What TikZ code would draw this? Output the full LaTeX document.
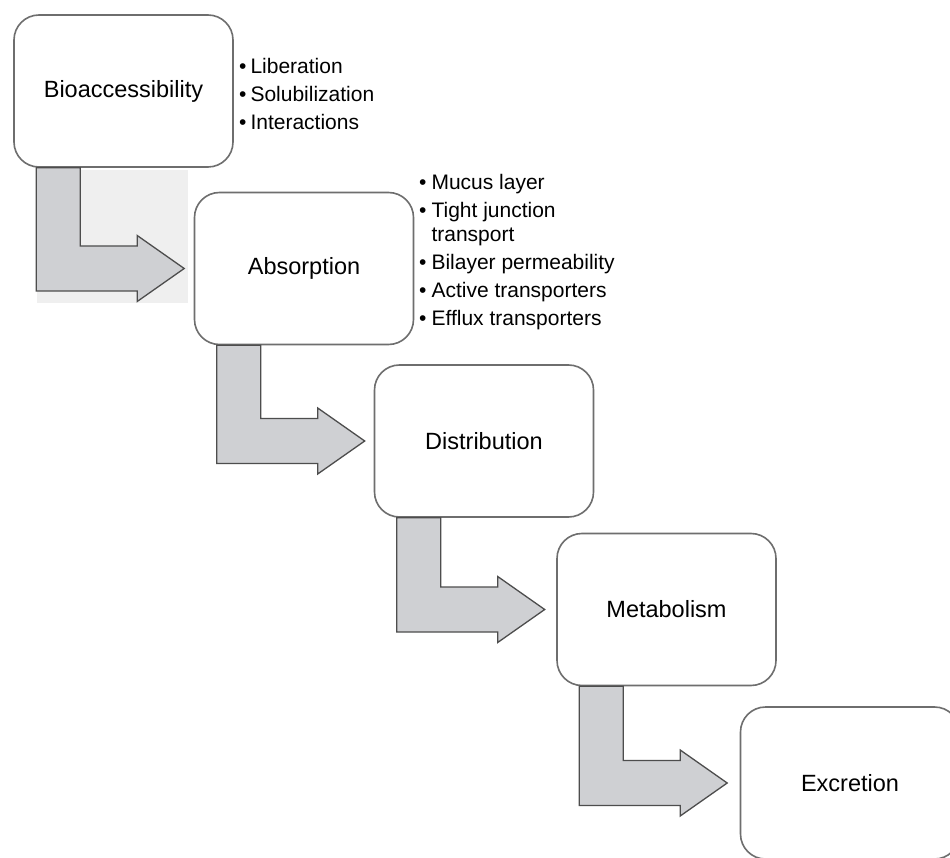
\documentclass[tikz,border=0pt]{standalone}
\usepackage{fontspec}
\setmainfont{Liberation Sans}
\usepackage{tikz}
\usetikzlibrary{calc}

\definecolor{boxline}{HTML}{6E6E6E}
\definecolor{arrowfill}{HTML}{CFD0D3}
\definecolor{arrowline}{HTML}{4D4D4D}
\definecolor{shadegray}{HTML}{EFEFEF}

\tikzset{
  stage/.style={draw=boxline, line width=1.6pt, fill=white, rounded corners=25pt,
    minimum width=219pt, minimum height=152pt, inner sep=0pt,
    font=\fontsize{23.5}{28}\selectfont},
  bendarrow/.style={draw=arrowline, line width=1.3pt, fill=arrowfill},
  notes/.style={anchor=base west, inner sep=0pt, font=\fontsize{21}{28}\selectfont}
}

% bent arrow from the bottom of #1 to the left side of #2
\newcommand{\stagearrow}[2]{%
  \coordinate (S) at ([xshift=23pt]#1.south west);
  \coordinate (M) at (S |- #2.west);
  \draw[bendarrow] (S) -- ($(M)+(0,-22.5)$) -- ($(M)+(101,-22.5)$)
    -- ($(M)+(101,-33)$) -- ($(M)+(148,0)$) -- ($(M)+(101,33)$)
    -- ($(M)+(101,22.5)$) -- ($(M)+(44,22.5)$) -- ([xshift=44pt]S) -- cycle;
}

\begin{document}
\begin{tikzpicture}[x=1pt, y=1pt]
\clip (0,0) rectangle (950,-858);
\fill[white] (0,0) rectangle (950,-858);

\node[stage] (bio) at (123.5,-91) {Bioaccessibility};
\node[stage] (abs) at (304,-268.5) {Absorption};
\node[stage] (dis) at (484,-441) {Distribution};
\node[stage] (met) at (666.5,-609.5) {Metabolism};
\node[stage] (exc) at (850,-783) {Excretion};

\fill[shadegray] (37,-170) rectangle (188,-303);
\stagearrow{bio}{abs}
\stagearrow{abs}{dis}
\stagearrow{dis}{met}
\stagearrow{met}{exc}

\node[notes] (bionotes) at (239,-74) {%
\begin{tabular}[t]{@{}l@{\hspace{4pt}}l@{}}
\textbullet & Liberation\\
\textbullet & Solubilization\\
\textbullet & Interactions
\end{tabular}};

\node[notes] (absnotes) at (419,-190) {%
\begin{tabular}[t]{@{}l@{\hspace{5pt}}l@{}}
\textbullet & Mucus layer\\
\textbullet & Tight junction\\[-4pt]
 & transport\\
\textbullet & Bilayer permeability\\
\textbullet & Active transporters\\
\textbullet & Efflux transporters
\end{tabular}};
\end{tikzpicture}
\end{document}
